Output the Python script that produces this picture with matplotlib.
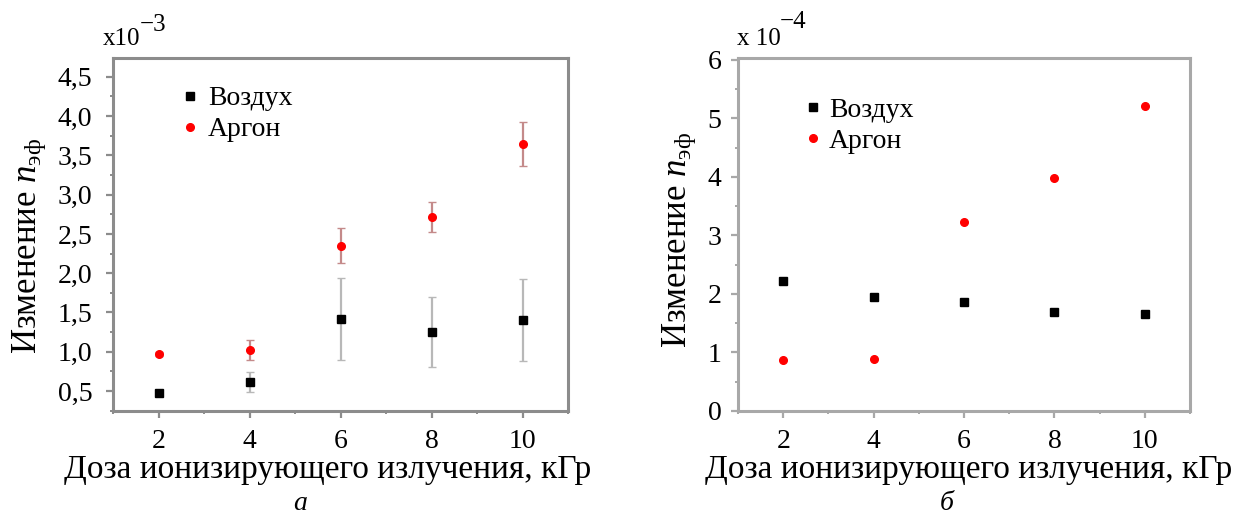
import matplotlib
matplotlib.use('Agg')
import matplotlib.pyplot as plt
from matplotlib.ticker import MultipleLocator, FuncFormatter

plt.rcParams['font.family'] = ['Liberation Serif', 'DejaVu Serif']
plt.rcParams['mathtext.fontset'] = 'custom'
plt.rcParams['mathtext.rm'] = 'Liberation Serif'
plt.rcParams['mathtext.it'] = 'Liberation Serif:italic'

# dose, kGy
dose = [2, 4, 6, 8, 10]

# panel a (x10^-3), with error bars
air_a = [0.475, 0.615, 1.42, 1.25, 1.40]
air_a_err = [0.04, 0.13, 0.52, 0.45, 0.52]
argon_a = [0.97, 1.02, 2.35, 2.72, 3.65]
argon_a_err = [0.03, 0.13, 0.22, 0.19, 0.28]

# panel b (x10^-4)
air_b = [2.22, 1.94, 1.87, 1.69, 1.66]
argon_b = [0.87, 0.88, 3.23, 3.98, 5.21]

xlabel = 'Доза ионизирующего излучения, кГр'
ylabel = 'Изменение $n_{\\mathrm{эф}}$'

W, H = 1241, 517
fig = plt.figure(figsize=(W / 100, H / 100), dpi=100)
ax1 = fig.add_axes([113 / W, 1 - 411 / H, 455 / W, 353 / H])
ax2 = fig.add_axes([738 / W, 1 - 411 / H, 452 / W, 353 / H])


def comma(v, pos):
    return ('%.1f' % v).replace('.', ',')


def style(ax, col, ypad):
    for s in ax.spines.values():
        s.set_color(col)
        s.set_linewidth(2.2)
    ax.tick_params(which='both', direction='out', color=col, labelsize=20,
                   top=False, right=False)
    ax.tick_params(which='major', length=5, width=1.6)
    ax.tick_params(which='minor', length=2.5, width=1.4)
    ax.tick_params(axis='x', which='major', pad=8)
    ax.tick_params(axis='y', which='major', pad=ypad)
    ax.set_xlim(1, 11)
    ax.xaxis.set_major_locator(MultipleLocator(2))
    ax.xaxis.set_minor_locator(MultipleLocator(1))
    ax.set_xlabel(xlabel, fontsize=24)


def legend(ax, x, y, tp):
    h, l = ax.get_legend_handles_labels()
    h = [x_.lines[0] if hasattr(x_, 'lines') else x_ for x_ in h]
    ax.legend(h, l, loc='upper left', bbox_to_anchor=(x, y), frameon=False,
              fontsize=20, handletextpad=tp, handlelength=1.0, borderpad=0,
              borderaxespad=0, labelspacing=0.2)


def px(x, y):
    return x / W, 1 - y / H


# panel a
ax1.errorbar(dose, air_a, yerr=air_a_err, fmt='s', color='black', ms=5.5,
             ecolor='#b8b8b8', elinewidth=1.6, capsize=3, label='Воздух')
ax1.errorbar(dose, argon_a, yerr=argon_a_err, fmt='o', color='#ff0000', ms=5.5,
             ecolor='#c48a8a', elinewidth=1.6, capsize=3, label='Аргон')
style(ax1, '#8c8c8c', 10)
ax1.set_ylim(0.245, 4.74)
ax1.yaxis.set_major_locator(MultipleLocator(0.5))
ax1.yaxis.set_minor_locator(MultipleLocator(0.25))
ax1.yaxis.set_major_formatter(FuncFormatter(comma))
ax1.set_ylabel(ylabel, fontsize=25)
ax1.yaxis.set_label_coords(-0.143, 0.467)
ax1.xaxis.set_label_coords(0.4725, -0.122)
legend(ax1, 0.138, 0.921, 0.15)
fig.text(*px(103, 45), 'x10', fontsize=18, va='baseline')
fig.text(*px(140, 31), '−3', fontsize=18, va='baseline')

# panel b
ax2.plot(dose, air_b, 's', color='black', ms=5.5, label='Воздух')
ax2.plot(dose, argon_b, 'o', color='#ff0000', ms=5.5, label='Аргон')
style(ax2, '#a8a8a8', 7)
ax2.set_ylim(0, 6.03)
ax2.yaxis.set_major_locator(MultipleLocator(1))
ax2.yaxis.set_minor_locator(MultipleLocator(0.5))
ax2.set_ylabel(ylabel, fontsize=25)
ax2.yaxis.set_label_coords(-0.088, 0.484)
ax2.xaxis.set_label_coords(0.511, -0.122)
legend(ax2, 0.135, 0.889, 0.08)
fig.text(*px(737, 45), 'x 10', fontsize=18, va='baseline')
fig.text(*px(780, 28), '−4', fontsize=18, va='baseline')

fig.text(*px(300, 516), 'а', fontsize=20, style='italic', ha='center', va='bottom')
fig.text(*px(947, 516), 'б', fontsize=20, style='italic', ha='center', va='bottom')

fig.savefig('out.png', dpi=100, facecolor='white')
